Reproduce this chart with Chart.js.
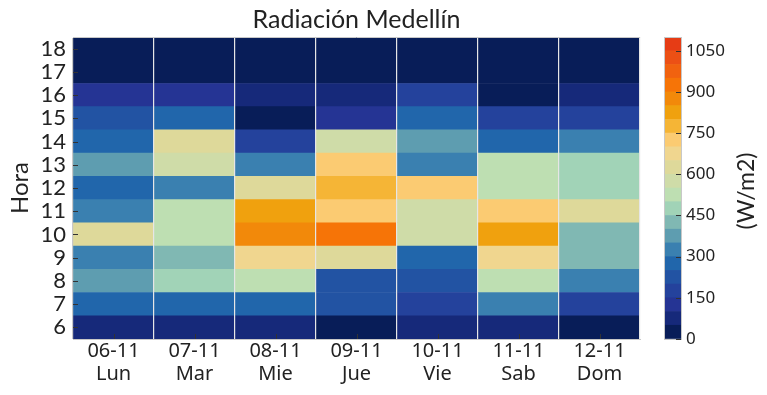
<!DOCTYPE html>
<html>
<head>
<meta charset="utf-8">
<script src="https://cdn.jsdelivr.net/npm/chart.js@4/dist/chart.umd.min.js"></script>
<style>
  html, body { margin: 0; padding: 0; background: #ffffff; }
  #wrap { position: relative; width: 767px; height: 395px; overflow: hidden; }
  #main { position: absolute; left: 0; top: 0; }
  #cbar { position: absolute; left: 650px; top: 0; }
  #cblabel { position: absolute; left: 695px; top: 177px; width: 100px; height: 28px; line-height: 28px;
             text-align: center; font-family: Lato, sans-serif; font-size: 23px; color: #222;
             transform: rotate(-90deg); transform-origin: 50% 50%; white-space: nowrap; }
</style>
</head>
<body>
<div id="wrap">
  <canvas id="main" width="660" height="395"></canvas>
  <canvas id="cbar" width="117" height="395"></canvas>
  <div id="cblabel">(W/m2)</div>
</div>
<script>
// ---- data ----
const days = ['06-11', '07-11', '08-11', '09-11', '10-11', '11-11', '12-11'];
const dayNames = ['Lun', 'Mar', 'Mie', 'Jue', 'Vie', 'Sab', 'Dom'];
const hours = [6, 7, 8, 9, 10, 11, 12, 13, 14, 15, 16, 17, 18];
// radiation (W/m2) per day, for hours 6..18
const lun = [80, 270, 380, 330, 620, 330, 280, 380, 280, 220, 130, 10, 10];
const mar = [80, 270, 480, 430, 520, 520, 330, 570, 620, 270, 130, 10, 10];
const mie = [80, 270, 520, 670, 870, 820, 620, 330, 180, 20, 80, 10, 10];
const jue = [20, 220, 220, 620, 920, 720, 770, 720, 570, 130, 80, 10, 10];
const vie = [80, 180, 220, 280, 570, 570, 720, 330, 380, 270, 180, 10, 10];
const sab = [80, 330, 520, 670, 820, 720, 520, 520, 280, 180, 10, 10, 10];
const dom = [20, 180, 330, 430, 430, 620, 480, 480, 330, 180, 80, 10, 10];
const cbTicks = [0, 150, 300, 450, 600, 750, 900, 1050];
const cbMin = 0, cbMax = 1100, cbStep = 50;
const cmapColors = ['#081d58', '#16297a', '#253494', '#24429c', '#2253a3', '#2166ab', '#3a80b0', '#5e9db0',
  '#80b8b3', '#a1d3b7', '#bedfb2', '#cfdca8', '#ded99a', '#f0d68f', '#fbcb72', '#f5b536', '#f0a10e',
  '#f2890a', '#f67407', '#f1620f', '#ec5015', '#e63c15'];

const dayValues = [lun, mar, mie, jue, vie, sab, dom];
function colorFor(v) {
  const i = Math.max(0, Math.min(cmapColors.length - 1, Math.floor((v - cbMin) / cbStep)));
  return cmapColors[i];
}

const FRAME = '#c8c8c8';
const SEP = '#e6e6e6';
const TXT = '#222222';
const TICKLEN = 5;

// draws matplotlib-style inward tick marks at each scale tick
const innerTicks = {
  id: 'innerTicks',
  afterDraw(chart) {
    const ctx = chart.ctx, a = chart.chartArea;
    ctx.save();
    ctx.strokeStyle = '#333';
    ctx.lineWidth = 1;
    Object.values(chart.scales).forEach(s => {
      if (!s.options.innerTicks) return;
      s.ticks.forEach((t, i) => {
        const p = Math.round(s.getPixelForTick(i)) + 0.5;
        ctx.beginPath();
        if (s.position === 'left') { ctx.moveTo(a.left, p); ctx.lineTo(a.left + TICKLEN, p); }
        else if (s.position === 'right') { ctx.moveTo(a.right, p); ctx.lineTo(a.right - TICKLEN, p); }
        else if (s.position === 'bottom') { ctx.moveTo(p, a.bottom); ctx.lineTo(p, a.bottom - TICKLEN); }
        ctx.stroke();
      });
    });
    ctx.restore();
  }
};

// ---- main heatmap ----
const heatDatasets = hours.map((h, hi) => ({
  label: h + ':00',
  data: days.map(() => [h - 0.5, h + 0.5]),
  backgroundColor: dayValues.map(arr => colorFor(arr[hi])),
  borderWidth: 0,
  barPercentage: 1,
  categoryPercentage: 1,
  grouped: false
}));

new Chart(document.getElementById('main'), {
  type: 'bar',
  data: {
    labels: days.map((d, i) => [d, dayNames[i]]),
    datasets: heatDatasets
  },
  plugins: [innerTicks],
  options: {
    responsive: false,
    animation: false,
    devicePixelRatio: 1,
    layout: { padding: { left: 0, right: 20, top: 0, bottom: 0 } },
    plugins: {
      legend: { display: false },
      tooltip: { enabled: false },
      title: {
        display: true,
        text: 'Radiación Medellín',
        fullSize: false,
        color: TXT,
        font: { family: 'Lato', size: 25, weight: 'normal', lineHeight: 1.2 },
        padding: { top: 5, bottom: 2 }
      }
    },
    scales: {
      x: {
        type: 'category',
        position: 'bottom',
        offset: true,
        innerTicks: true,
        grid: { offset: false, drawOnChartArea: false, drawTicks: false },
        border: { display: true, color: FRAME, width: 1, z: 1 },
        ticks: { color: TXT, font: { family: 'Noto Sans', size: 20, lineHeight: 1.15 }, padding: 1, maxRotation: 0, autoSkip: false },
        afterFit: s => { s.height = 56; }
      },
      x2: {
        type: 'category',
        position: 'top',
        offset: true,
        grid: {
          offset: true, drawOnChartArea: true, drawTicks: false, z: 1, lineWidth: 1.2,
          color: ctx => (ctx.index === 0 || ctx.index === days.length) ? FRAME : SEP
        },
        border: { display: true, color: FRAME, width: 1, z: 1 },
        ticks: { display: false },
        afterFit: s => { s.height = 0; }
      },
      y: {
        type: 'linear',
        min: hours[0] - 0.5,
        max: hours[hours.length - 1] + 0.5,
        innerTicks: true,
        afterBuildTicks: s => { s.ticks = hours.map(v => ({ value: v })); },
        grid: { drawOnChartArea: false, drawTicks: false },
        border: { display: false },
        ticks: { color: TXT, font: { family: 'Lato', size: 22 }, padding: 7, autoSkip: false },
        title: { display: true, text: 'Hora', color: TXT, font: { family: 'Lato', size: 24 }, padding: { top: 6, bottom: 0 } },
        afterFit: s => { s.width = 73; }
      }
    }
  }
});

// ---- colorbar ----
const cbBins = cmapColors.map((c, i) => [cbMin + i * cbStep, cbMin + (i + 1) * cbStep]);
new Chart(document.getElementById('cbar'), {
  type: 'bar',
  data: {
    labels: ['W/m2'],
    datasets: cbBins.map((b, i) => ({
      label: String(b[0]),
      data: [b],
      backgroundColor: cmapColors[i],
      borderWidth: 0,
      barPercentage: 1,
      categoryPercentage: 1,
      grouped: false
    }))
  },
  plugins: [innerTicks],
  options: {
    responsive: false,
    animation: false,
    devicePixelRatio: 1,
    layout: { padding: { left: 14, right: 0, top: 0, bottom: 0 } },
    plugins: { legend: { display: false }, tooltip: { enabled: false }, title: { display: false } },
    scales: {
      x: {
        type: 'category',
        position: 'bottom',
        offset: true,
        grid: { offset: true, drawOnChartArea: true, drawTicks: false, color: FRAME, z: 1 },
        border: { display: true, color: FRAME, z: 1 },
        ticks: { display: false },
        afterFit: s => { s.height = 56; }
      },
      x2: {
        type: 'category',
        position: 'top',
        offset: true,
        grid: { drawOnChartArea: false, drawTicks: false },
        border: { display: true, color: FRAME, z: 1 },
        ticks: { display: false },
        afterFit: s => { s.height = 37; }
      },
      y: {
        type: 'linear',
        position: 'right',
        min: cbMin,
        max: cbMax,
        innerTicks: true,
        afterBuildTicks: s => { s.ticks = cbTicks.map(v => ({ value: v })); },
        grid: { drawOnChartArea: false, drawTicks: false },
        border: { display: true, color: FRAME, z: 1 },
        ticks: { color: TXT, font: { family: 'Noto Sans', size: 17 }, padding: 5, autoSkip: false, callback: v => String(v) },
        afterFit: s => { s.width = 117 - 14 - 17; }
      }
    }
  }
});
</script>
</body>
</html>
